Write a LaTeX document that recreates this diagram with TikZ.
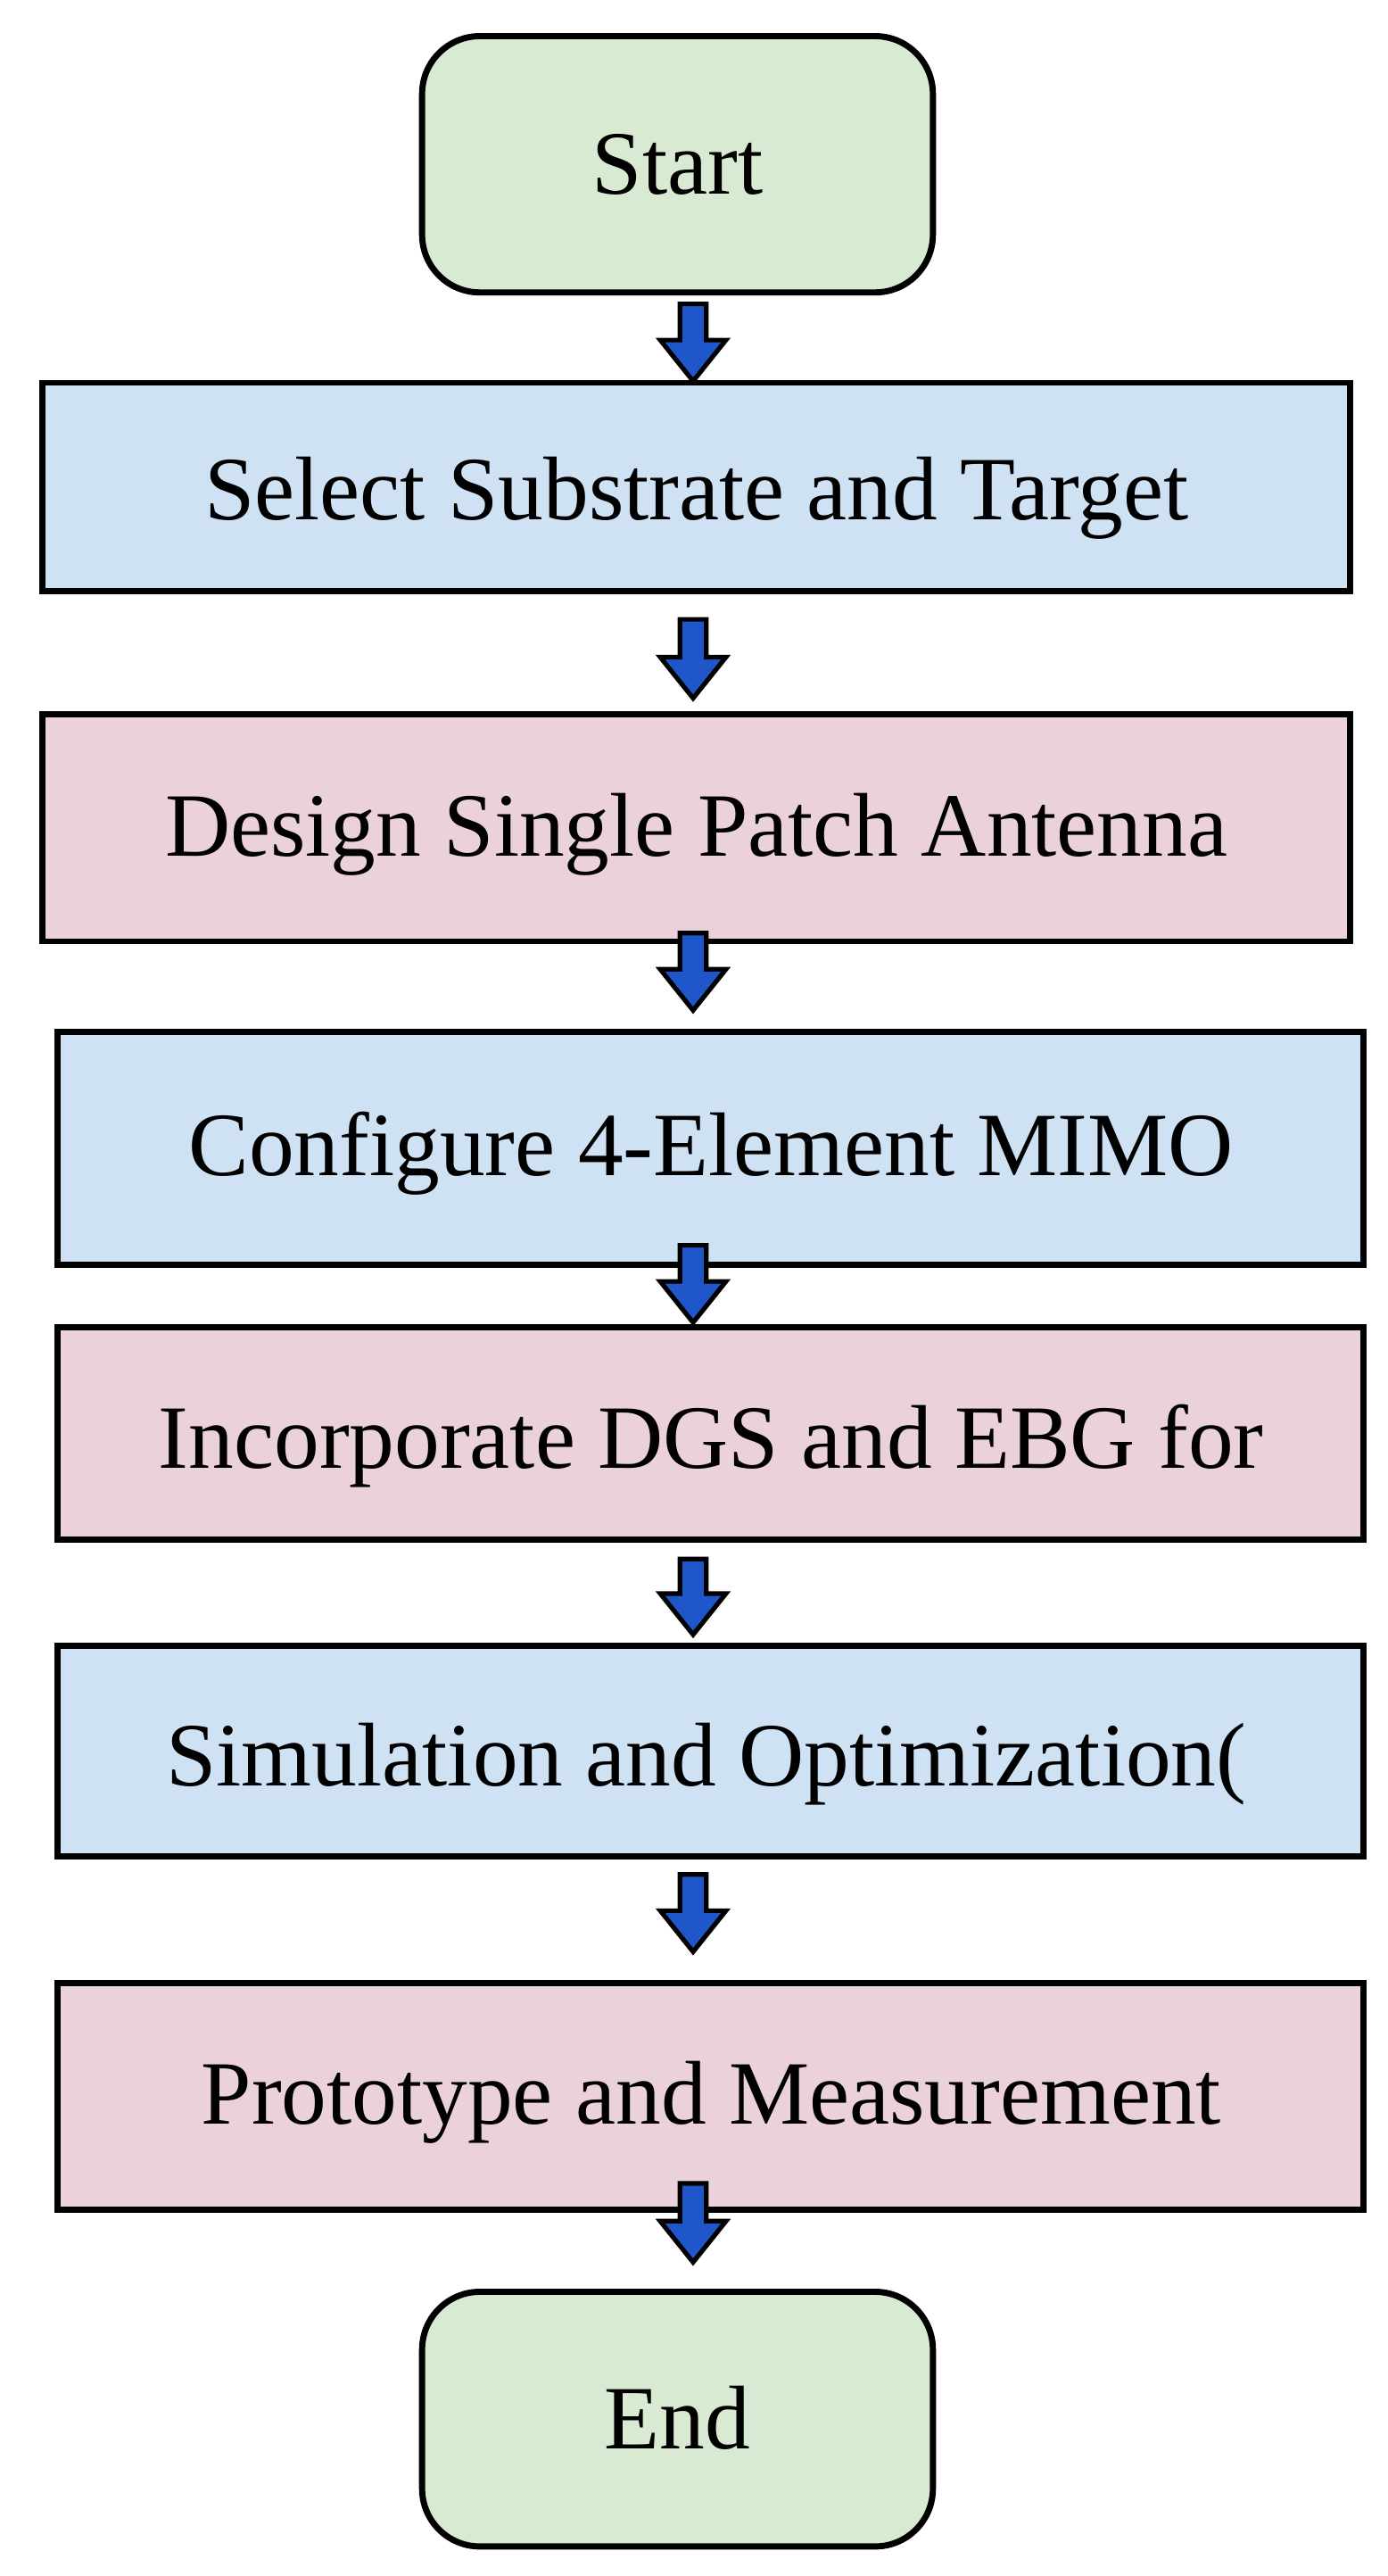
\documentclass[tikz,border=0pt]{standalone}
\usepackage{fontspec}
\setmainfont{Liberation Serif}
\definecolor{cgreen}{HTML}{D9EAD3}
\definecolor{cblue}{HTML}{CFE2F3}
\definecolor{cpink}{HTML}{EAD1DC}
\definecolor{carrow}{HTML}{1F56C9}
\begin{document}
\begin{tikzpicture}[x=0.03cm,y=-0.03cm,
  box/.style={draw=black,line width=3.2pt},
  lbl/.style={font=\fontsize{47}{52}\selectfont},
  term/.style={box,fill=cgreen,rounded corners=30pt},
  arr/.style={draw=black,line width=2.4pt,fill=carrow,line join=miter}]
\useasboundingbox (0,0) rectangle (845,1568);
\path[term] (257,22) rectangle (568,178); \node[lbl] (start) at (412.5,100) {Start};
\path[box,fill=cblue] (26,233) rectangle (822,360); \node[lbl] (b1) at (424,303) {Select Substrate and Target};
\path[box,fill=cpink] (26,435) rectangle (822,573); \node[lbl] (b2) at (424,508) {Design Single Patch Antenna};
\path[box,fill=cblue] (35,628) rectangle (830,770); \node[lbl] (b3) at (433,702) {Configure 4-Element MIMO};
\path[box,fill=cpink] (35,808) rectangle (830,937); \node[lbl] (b4) at (433,880) {Incorporate DGS and EBG for};
\path[box,fill=cblue] (35,1002) rectangle (830,1130); \node[lbl] (b5) at (430,1074) {Simulation and Optimization(};
\path[box,fill=cpink] (35,1207) rectangle (830,1345); \node[lbl] (b6) at (433,1280) {Prototype and Measurement};
\path[term] (257,1395) rectangle (568,1550); \node[lbl] (end) at (412.5,1472) {End};
\foreach \a/\b in {185/232,377/425,568/615,758/805,949/995,1141/1188,1329/1377}{
  \draw[arr] (414,\a) -- (430,\a) -- (430,\b-25) -- (442,\b-25) -- (422,\b) -- (402,\b-25) -- (414,\b-25) -- cycle;
}
\end{tikzpicture}
\end{document}
